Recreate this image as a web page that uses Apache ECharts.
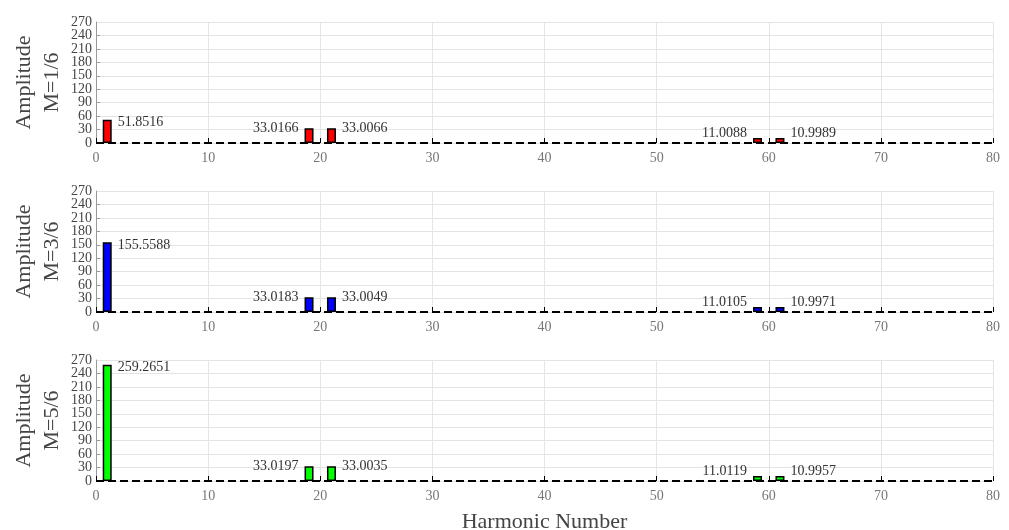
<!DOCTYPE html>
<html>
<head>
<meta charset="utf-8">
<script src="https://cdn.jsdelivr.net/npm/echarts@6/dist/echarts.min.js"></script>
<style>
  html, body { margin: 0; padding: 0; background: #fff; }
  #chart { width: 1009px; height: 530px; }
</style>
</head>
<body>
<div id="chart"></div>
<script>
// Harmonic spectrum for three modulation indices
const harmonics = [1, 19, 21, 59, 61];
const labelSides = ['right', 'left', 'right', 'left', 'right'];
const ampM1 = [51.8516, 33.0166, 33.0066, 11.0088, 10.9989];
const ampM3 = [155.5588, 33.0183, 33.0049, 11.0105, 10.9971];
const ampM5 = [259.2651, 33.0197, 33.0035, 11.0119, 10.9957];
const panelNames = ['M=1/6', 'M=3/6', 'M=5/6'];
const panelColors = ['#ff0000', '#0000ff', '#00ff00'];
const panelData = [ampM1, ampM3, ampM5];
const xRange = [0, 80];
const xStep = 10;
const yRange = [0, 270];
const yStep = 30;
const xTitle = 'Harmonic Number';
const yTitle = 'Amplitude';

const FONT = 'Liberation Serif';
const gridTops = [22, 191, 360];
const gridHeight = 121;

// vertical nudge of a value label relative to the bar top
function labelNudge(v) {
  if (v < 20) return -5;
  if (v < 40) return 0;
  return 3;
}

const yLabelStyle = { fontFamily: FONT, fontSize: 14, lineHeight: 10, color: '#444', margin: 4 };

const grids = [], xAxes = [], yAxes = [], series = [];

panelNames.forEach((name, i) => {
  grids.push({
    left: 96, right: 16, top: gridTops[i], height: gridHeight,
    containLabel: false, outerBoundsMode: 'none'
  });

  xAxes.push({
    type: 'value', gridIndex: i, min: xRange[0], max: xRange[1], interval: xStep,
    name: i === panelNames.length - 1 ? xTitle : '',
    nameLocation: 'middle', nameGap: 30,
    nameTextStyle: { fontFamily: FONT, fontSize: 22, color: '#444' },
    axisLine: { show: false },
    axisTick: { show: true, inside: true, length: 5, lineStyle: { color: '#000', width: 1 } },
    axisLabel: {
      fontFamily: FONT, fontSize: 14, color: '#777', margin: 8,
      showMinLabel: true, showMaxLabel: true
    },
    splitLine: { show: true, lineStyle: { color: '#e4e4e4', width: 1 } }
  });

  // main amplitude axis: inner tick labels, grid lines, title
  yAxes.push({
    type: 'value', gridIndex: i, min: yRange[0], max: yRange[1], interval: yStep,
    name: yTitle + '\n' + name,
    nameLocation: 'middle', nameRotate: 90, nameGap: 30, nameMoveOverlap: false,
    nameTextStyle: { fontFamily: FONT, fontSize: 22, color: '#444', lineHeight: 28 },
    axisLine: { show: true, lineStyle: { color: '#999', width: 1 } },
    axisTick: { show: true, inside: true, length: 4, lineStyle: { color: '#999' } },
    axisLabel: Object.assign({ showMinLabel: false, showMaxLabel: false }, yLabelStyle),
    splitLine: { show: true, lineStyle: { color: '#e4e4e4', width: 1 } }
  });

  // companion axis carrying only the end labels (0 and 270)
  yAxes.push({
    type: 'value', gridIndex: i, min: yRange[0], max: yRange[1], interval: yStep,
    position: 'left',
    axisLine: { show: false },
    axisTick: { show: false },
    splitLine: { show: false },
    axisLabel: Object.assign({
      showMinLabel: true, showMaxLabel: true,
      formatter: (val) => (val === yRange[0] || val === yRange[1]) ? String(val) : ''
    }, yLabelStyle)
  });

  const yIdx = i * 2;

  // dashed zero baseline across the whole harmonic range
  series.push({
    type: 'line', xAxisIndex: i, yAxisIndex: yIdx, z: 2,
    data: [[xRange[0], 0], [xRange[1], 0]],
    symbol: 'none', silent: true,
    lineStyle: { color: '#000', width: 2, type: [8, 4] }
  });

  series.push({
    type: 'bar', xAxisIndex: i, yAxisIndex: yIdx, z: 3,
    barWidth: 9,
    itemStyle: { color: panelColors[i], borderColor: '#000', borderWidth: 1.5 },
    data: harmonics.map((h, k) => {
      const v = panelData[i][k];
      const right = labelSides[k] === 'right';
      return {
        value: [h, v],
        label: {
          show: true,
          position: right ? ['100%', 0] : [0, 0],
          align: right ? 'left' : 'right',
          verticalAlign: 'middle',
          offset: [right ? 6 : -6, labelNudge(v)],
          formatter: () => v.toFixed(4),
          fontFamily: FONT, fontSize: 14, color: '#333'
        }
      };
    })
  });
});

const chart = echarts.init(document.getElementById('chart'), null, { renderer: 'canvas' });
chart.setOption({
  animation: false,
  backgroundColor: '#fff',
  grid: grids,
  xAxis: xAxes,
  yAxis: yAxes,
  series: series
});
</script>
</body>
</html>
